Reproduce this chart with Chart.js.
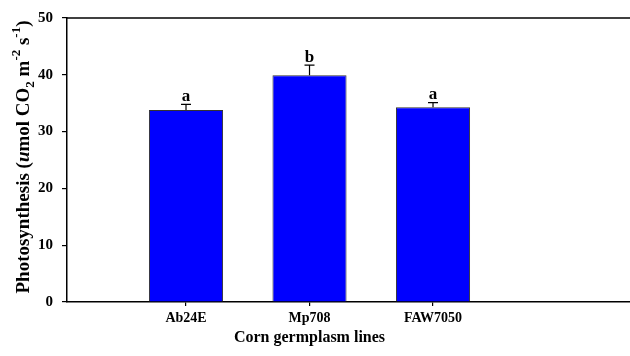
<!DOCTYPE html>
<html><head><meta charset="utf-8">
<style>html,body{margin:0;padding:0;background:#fff}#wrap{width:630px;height:356px}</style>
<script src="https://cdn.jsdelivr.net/npm/chart.js@4/dist/chart.umd.min.js"></script>
</head><body><div id="wrap"><canvas id="c" width="630" height="356"></canvas></div>
<script>
const categories = ['Ab24E', 'Mp708', 'FAW7050'];
const values = [33.8, 39.9, 34.3];
const errors = [1.0, 1.8, 0.8];
const letters = ['a', 'b', 'a'];
const yTickValues = [0, 10, 20, 30, 40, 50];
const xTitle = 'Corn germplasm lines';

const SERIF = '"Liberation Serif", "Times New Roman", serif';

const extras = {
  id: 'extras',
  afterDatasetsDraw(chart) {
    const ctx = chart.ctx;
    const ys = chart.scales.y;
    const xs = chart.scales.x;
    const meta = chart.getDatasetMeta(0);
    const ca = chart.chartArea;
    ctx.save();
    // top frame line
    ctx.strokeStyle = '#000';
    ctx.lineWidth = 1.5;
    ctx.beginPath();
    ctx.moveTo(ca.left, ca.top);
    ctx.lineTo(ca.right, ca.top);
    ctx.stroke();
    // error bars + letters
    ctx.lineWidth = 1.2;
    meta.data.forEach((el, i) => {
      const x = el.x;
      const yb = el.y;
      const yt = ys.getPixelForValue(values[i] + errors[i]);
      ctx.beginPath();
      ctx.moveTo(x, yb);
      ctx.lineTo(x, yt);
      ctx.moveTo(x - 5, yt);
      ctx.lineTo(x + 5, yt);
      ctx.stroke();
      ctx.fillStyle = '#000';
      ctx.font = 'bold 17px ' + SERIF;
      ctx.textAlign = 'center';
      ctx.textBaseline = 'alphabetic';
      ctx.fillText(letters[i], x, yt - 3.5);
    });
    // x title, centred under the middle category
    ctx.font = 'bold 16px ' + SERIF;
    ctx.textAlign = 'center';
    ctx.textBaseline = 'alphabetic';
    ctx.fillText(xTitle, xs.getPixelForValue(2), 342);
    // y title (rich text)
    const parts = [
      {t: 'Photosynthesis (', f: 'bold 19px ' + SERIF, dy: 0},
      {t: 'u', f: 'italic bold 19px ' + SERIF, dy: 0},
      {t: 'mol CO', f: 'bold 19px ' + SERIF, dy: 0},
      {t: '2', f: 'bold 13px ' + SERIF, dy: 5},
      {t: ' m', f: 'bold 19px ' + SERIF, dy: 0},
      {t: '-2', f: 'bold 13px ' + SERIF, dy: -8.5},
      {t: ' s', f: 'bold 19px ' + SERIF, dy: 0},
      {t: '-1', f: 'bold 13px ' + SERIF, dy: -8.5},
      {t: ')', f: 'bold 19px ' + SERIF, dy: 0}
    ];
    let total = 0;
    parts.forEach(p => { ctx.font = p.f; p.w = ctx.measureText(p.t).width; total += p.w; });
    ctx.translate(28.5, 157);
    ctx.rotate(-Math.PI / 2);
    ctx.textAlign = 'left';
    let px = -total / 2;
    parts.forEach(p => { ctx.font = p.f; ctx.fillText(p.t, px, p.dy); px += p.w; });
    ctx.restore();
  }
};

new Chart(document.getElementById('c'), {
  type: 'bar',
  data: {
    datasets: [{
      data: categories.map((c, i) => ({x: i + 1, y: values[i]})),
      backgroundColor: '#0000FF',
      borderColor: '#333333',
      borderWidth: 1,
      categoryPercentage: 0.6,
      barPercentage: 1
    }]
  },
  options: {
    responsive: false,
    devicePixelRatio: 1,
    animation: false,
    layout: {padding: {top: 15, right: 0, left: 0, bottom: 0}},
    plugins: {legend: {display: false}, tooltip: {enabled: false}},
    scales: {
      x: {
        type: 'linear',
        min: 0.0364,
        max: 4.595,
        offset: false,
        afterBuildTicks(s) { s.ticks = categories.map((c, i) => ({value: i + 1})); },
        afterFit(s) { s.height = 54; },
        ticks: {
          callback: (v) => categories[v - 1] || '',
          color: '#000',
          font: {family: SERIF, size: 14, weight: 'bold'},
          padding: 4,
          maxRotation: 0
        },
        grid: {offset: false, drawOnChartArea: false, drawTicks: true, tickLength: 4, color: '#000', lineWidth: 1.2},
        border: {display: true, color: '#000', width: 1.5}
      },
      y: {
        min: 0,
        max: 50,
        afterBuildTicks(s) { s.ticks = yTickValues.map(v => ({value: v})); },
        afterFit(s) { s.width = 67; },
        ticks: {
          color: '#000',
          font: {family: SERIF, size: 15, weight: 'bold'},
          padding: 9
        },
        grid: {drawOnChartArea: false, drawTicks: true, tickLength: 5, color: '#000', lineWidth: 1.2},
        border: {display: true, color: '#000', width: 1.5}
      }
    }
  },
  plugins: [extras]
});
</script></body></html>
